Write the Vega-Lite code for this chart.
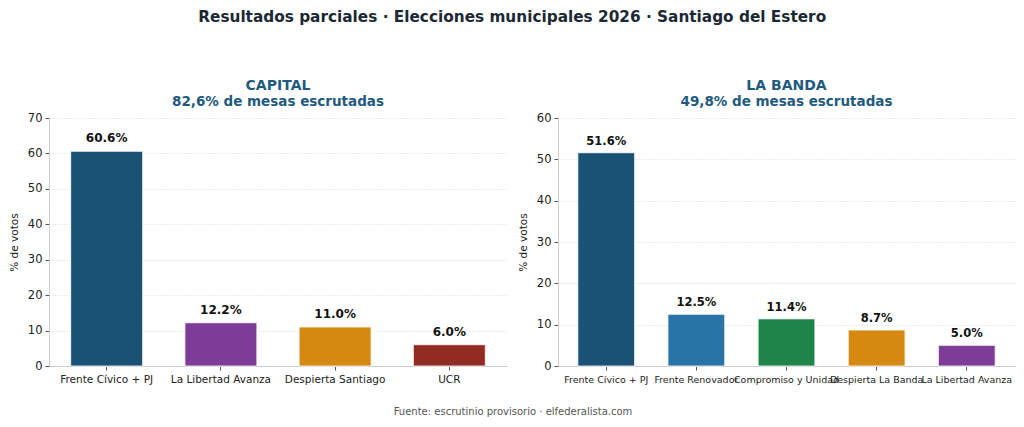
{
  "$schema": "https://vega.github.io/schema/vega-lite/v6.json",
  "background": "white",
  "padding": {"left": 9, "top": 10, "right": 5, "bottom": 5},
  "title": {
    "text": "Resultados parciales · Elecciones municipales 2026 · Santiago del Estero",
    "font": "DejaVu Sans", "fontSize": 15.3, "fontWeight": "bold", "color": "#1c2833",
    "anchor": "middle", "offset": 53
  },
  "datasets": {
    "capital": [
      {"partido": "Frente Cívico + PJ", "pct": 60.6, "label": "60.6%"},
      {"partido": "La Libertad Avanza", "pct": 12.2, "label": "12.2%"},
      {"partido": "Despierta Santiago", "pct": 11.0, "label": "11.0%"},
      {"partido": "UCR", "pct": 6.0, "label": "6.0%"}
    ],
    "banda": [
      {"partido": "Frente Cívico + PJ", "pct": 51.6, "label": "51.6%"},
      {"partido": "Frente Renovador", "pct": 12.5, "label": "12.5%"},
      {"partido": "Compromiso y Unidad", "pct": 11.4, "label": "11.4%"},
      {"partido": "Despierta La Banda", "pct": 8.7, "label": "8.7%"},
      {"partido": "La Libertad Avanza", "pct": 5.0, "label": "5.0%"}
    ],
    "fuente": [
      {"t": "Fuente: escrutinio provisorio  ·  elfederalista.com"}
    ]
  },
  "config": {
    "font": "DejaVu Sans",
    "view": {"stroke": null},
    "axis": {
      "labelFont": "DejaVu Sans", "titleFont": "DejaVu Sans",
      "domainColor": "#cccccc", "tickColor": "#555555", "labelColor": "#222222",
      "titleColor": "#222222", "titleFontWeight": "normal"
    }
  },
  "vconcat": [
    {
      "hconcat": [
        {
          "width": 458, "height": 248,
          "title": {
            "text": "CAPITAL", "subtitle": "82,6% de mesas escrutadas",
            "fontSize": 14, "fontWeight": "bold", "color": "#1f5a80",
            "subtitleFontSize": 13.5, "subtitleFontWeight": "bold", "subtitleColor": "#1f5a80",
            "subtitlePadding": 2, "offset": 4, "anchor": "middle",
            "font": "DejaVu Sans", "subtitleFont": "DejaVu Sans"
          },
          "data": {"name": "capital"},
          "encoding": {
            "x": {
              "field": "partido", "type": "nominal", "sort": null, "title": null,
              "scale": {"paddingInner": 0.37, "paddingOuter": 0.19},
              "axis": {"labelAngle": 0, "labelFontSize": 10.5, "labelLimit": 0, "labelOverlap": false, "tickSize": 4, "labelPadding": 4}
            },
            "y": {
              "field": "pct", "type": "quantitative", "title": "% de votos",
              "scale": {"domain": [0, 70], "nice": false},
              "axis": {"values": [0, 10, 20, 30, 40, 50, 60, 70], "labelFontSize": 11.5, "titleFontSize": 10.5,
                "grid": true, "gridColor": "#d8d8d8", "gridDash": [1, 2], "tickSize": 4, "labelPadding": 3, "titlePadding": 8}
            }
          },
          "layer": [
            {
              "mark": {"type": "bar", "stroke": "#ffffff", "strokeWidth": 0.8},
              "encoding": {
                "color": {"field": "partido", "type": "nominal", "legend": null,
                  "scale": {
                    "domain": ["Frente Cívico + PJ", "La Libertad Avanza", "Despierta Santiago", "UCR", "Frente Renovador", "Compromiso y Unidad", "Despierta La Banda"],
                    "range": ["#1a5276", "#7d3c98", "#d68910", "#922b21", "#2874a6", "#1e8449", "#d68910"]
                  }}
              }
            },
            {
              "mark": {"type": "text", "baseline": "bottom", "dy": -6, "fontSize": 12, "fontWeight": "bold", "color": "#111111"},
              "encoding": {"text": {"field": "label"}}
            }
          ]
        },
        {
          "width": 457, "height": 248,
          "title": {
            "text": "LA BANDA", "subtitle": "49,8% de mesas escrutadas",
            "fontSize": 14, "fontWeight": "bold", "color": "#1f5a80",
            "subtitleFontSize": 13.5, "subtitleFontWeight": "bold", "subtitleColor": "#1f5a80",
            "subtitlePadding": 2, "offset": 4, "anchor": "middle",
            "font": "DejaVu Sans", "subtitleFont": "DejaVu Sans"
          },
          "data": {"name": "banda"},
          "encoding": {
            "x": {
              "field": "partido", "type": "nominal", "sort": null, "title": null,
              "scale": {"paddingInner": 0.37, "paddingOuter": 0.22},
              "axis": {"labelAngle": 0, "labelFontSize": 9.5, "labelLimit": 0, "labelOverlap": false, "tickSize": 4, "labelPadding": 4}
            },
            "y": {
              "field": "pct", "type": "quantitative", "title": "% de votos",
              "scale": {"domain": [0, 60], "nice": false},
              "axis": {"values": [0, 10, 20, 30, 40, 50, 60], "labelFontSize": 11.5, "titleFontSize": 10.5,
                "grid": true, "gridColor": "#d8d8d8", "gridDash": [1, 2], "tickSize": 4, "labelPadding": 3, "titlePadding": 8}
            }
          },
          "layer": [
            {
              "mark": {"type": "bar", "stroke": "#ffffff", "strokeWidth": 0.8},
              "encoding": {
                "color": {"field": "partido", "type": "nominal", "legend": null,
                  "scale": {
                    "domain": ["Frente Cívico + PJ", "La Libertad Avanza", "Despierta Santiago", "UCR", "Frente Renovador", "Compromiso y Unidad", "Despierta La Banda"],
                    "range": ["#1a5276", "#7d3c98", "#d68910", "#922b21", "#2874a6", "#1e8449", "#d68910"]
                  }}
              }
            },
            {
              "mark": {"type": "text", "baseline": "bottom", "dy": -6, "fontSize": 11.5, "fontWeight": "bold", "color": "#111111"},
              "encoding": {"text": {"field": "label"}}
            }
          ]
        }
      ],
      "spacing": 11
    },
    {
      "width": 940, "height": 12,
      "data": {"name": "fuente"},
      "mark": {"type": "text", "fontSize": 10, "color": "#555555", "align": "center", "baseline": "middle"},
      "encoding": {
        "text": {"field": "t"},
        "x": {"value": 464},
        "y": {"value": 6}
      }
    }
  ],
  "spacing": 21
}
